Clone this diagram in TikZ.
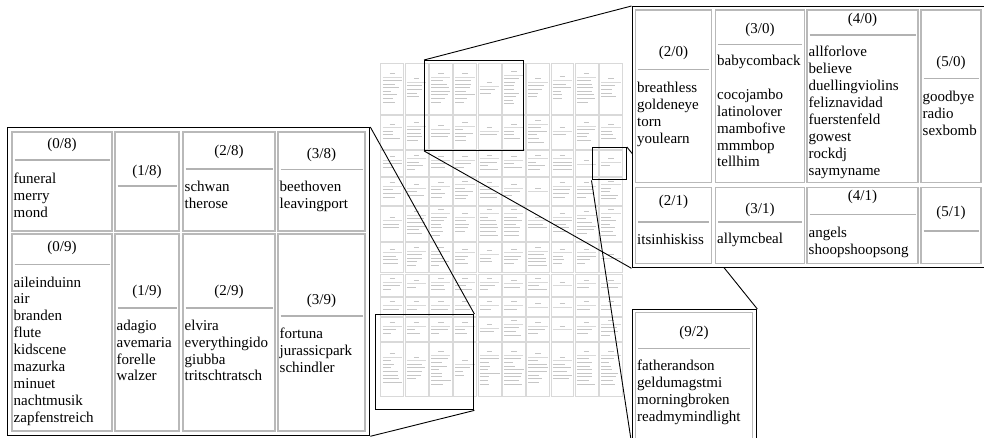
\documentclass[tikz,border=0pt]{standalone}
\usepackage{fontspec}
\setmainfont{Liberation Serif}
\pgfdeclarelayer{grid}
\pgfdeclarelayer{links}
\pgfsetlayers{grid,links,main}

\begin{document}
\begin{tikzpicture}[x=1pt, y=-1pt,
  panel/.style={draw=black, line width=1.3pt, fill=white, inner sep=0pt, anchor=north west},
  mapbox/.style={draw=black, line width=1.4pt, inner sep=0pt, anchor=north west},
  cellbox/.style={draw=gray!55, line width=1.1pt},
  rule/.style={draw=gray!60, line width=1.6pt},
  word/.style={font=\fontsize{15}{17}\selectfont, inner sep=0pt, text height=10pt, text depth=3pt},
  link/.style={draw=black, line width=0.9pt},
  minicell/.style={draw=gray!30, line width=0.5pt},
  miniword/.style={draw=gray!45, line width=0.9pt}]

  \useasboundingbox (0,0) rectangle (984,437);
  \clip (0,0) rectangle (984,437);

  % the whole map, too small to read
  \begin{pgfonlayer}{grid}
    \pgfmathsetseed{11}
    \def\rowy{{62.7,115,150,176.7,205.7,241.7,273.3,296.7,316.7,341.7,396.7}}
    \foreach \row in {0,...,9} {
      \pgfmathsetmacro{\ya}{\rowy[\row]}
      \pgfmathsetmacro{\yb}{\rowy[\row+1]}
      \pgfmathtruncatemacro{\nmax}{max(0,min(8,floor((\yb-\ya-14)/3.6)))}
      \foreach \col in {0,...,9} {
        \pgfmathsetmacro{\xa}{380+24.3*\col}
        \pgfmathtruncatemacro{\nw}{min(\nmax,floor(sqrt(rnd)*(\nmax+1)))}
        \pgfmathsetmacro{\yc}{(\ya+\yb)/2-(9+3.6*\nw)/2}
        \draw[minicell] (\xa+0.7,\ya+0.7) rectangle (\xa+23.6,\yb-0.7);
        \draw[miniword] (\xa+9.5,\yc+1.5) -- ++(5.5,0);
        \draw[minicell] (\xa+2.5,\yc+5) -- (\xa+21.8,\yc+5);
        \ifnum\nw>0
          \foreach \k in {1,...,\nw} {
            \pgfmathsetmacro{\wlen}{8+rnd*12}
            \draw[miniword] (\xa+2.5,\yc+5+3.6*\k) -- ++(\wlen,0);
          }
        \fi
      }
    }
  \end{pgfonlayer}

  % frames on the map
  \node[mapbox, minimum width=98.5pt, minimum height=89.5pt] (mapT) at (424,60) {};
  \node[mapbox, minimum width=98pt, minimum height=95pt] (mapL) at (375,314) {};
  \node[mapbox, minimum width=34pt, minimum height=32pt] (mapS) at (591.5,147) {};

  % enlarged parts
  \node[panel, minimum width=362pt, minimum height=308pt] (zoomL) at (7,127) {};
  \node[panel, minimum width=360pt, minimum height=261pt] (zoomT) at (631.5,6) {};
  \node[panel, minimum width=124pt, minimum height=136pt] (zoomS) at (632,309) {};

  \begin{pgfonlayer}{links}
    \draw[link] (mapL.north east) -- (zoomL.north east);
    \draw[link] (mapL.south east) -- (zoomL.south east);
    \draw[link] (mapT.north west) -- (zoomT.north west);
    \draw[link] (mapT.south west) -- (zoomT.south west);
    \draw[link] (mapS.north east) -- (zoomS.north east);
    \draw[link] (mapS.south west) -- (zoomS.south west);
  \end{pgfonlayer}

  % cells: x/y, box, header, rule, first word, words
  \foreach \cx/\cy/\xa/\ya/\xb/\yb/\hy/\ry/\fy/\items in {
    0/8/12/132/112/231/145/160/180/{funeral,merry,mond},
    1/8/115/132/179/231/171.7/186/0/{},
    2/8/183/132/275/231/152/169/188/{schwan,therose},
    3/8/278/132/365/231/155/169.3/188.3/{beethoven,leavingport},
    0/9/12/234/112/431/248.3/264.3/283.5/{aileinduinn,air,branden,flute,kidscene,mazurka,minuet,nachtmusik,zapfenstreich},
    1/9/115/234/179/431/291.7/307.7/326.7/{adagio,avemaria,forelle,walzer},
    2/9/183/234/275/431/291.7/307.7/326.7/{elvira,everythingido,giubba,tritschtratsch},
    3/9/278/234/365/431/300.7/315.7/335/{fortuna,jurassicpark,schindler},
    2/0/635.5/10/711.5/182.5/53.3/69.3/89.3/{breathless,goldeneye,torn,youlearn},
    3/0/715.5/10/804.5/182.5/30/44.3/62/{babycomback,{},cocojambo,latinolover,mambofive,mmmbop,tellhim},
    4/0/807/10/918/182.5/20/35/53.3/{allforlove,believe,duellingviolins,feliznavidad,fuerstenfeld,gowest,rockdj,saymyname},
    5/0/921/10/981/182.5/63.3/78.3/98.3/{goodbye,radio,sexbomb},
    2/1/635.5/187.5/711.5/263.5/201.7/221.7/240.7/{itsinhiskiss},
    3/1/715.5/187.5/804.5/263.5/210/222/240/{allymcbeal},
    4/1/807/187.5/918/263.5/196.7/214.3/234.3/{angels,shoopshoopsong},
    5/1/921/187.5/981/263.5/213.3/231/0/{},
    9/2/635.5/312.5/752.5/441/333.3/348.3/367.3/{fatherandson,geldumagstmi,morningbroken,readmymindlight}} {
    \draw[cellbox] (\xa,\ya) rectangle (\xb,\yb);
    \node[word] (head-\cx-\cy) at ({(\xa+\xb)/2},\hy) {(\cx/\cy)};
    \draw[rule] (\xa+2.5,\ry) -- (\xb-2.5,\ry);
    \foreach \w [count=\k] in \items
      \node[word, anchor=west] (item-\cx-\cy-\k) at (\xa+1.5,{\fy+16.9*(\k-1)}) {\w};
  }
\end{tikzpicture}
\end{document}
